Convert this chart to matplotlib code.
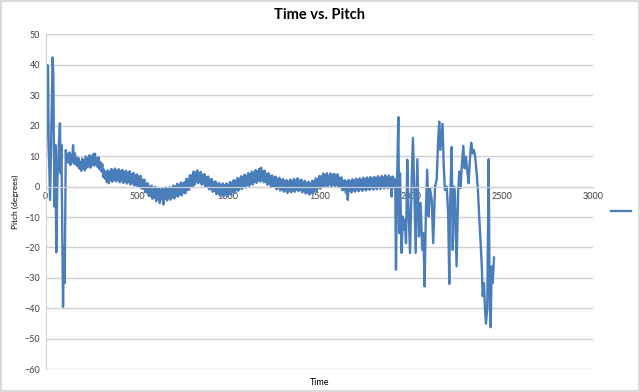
import numpy as np
import matplotlib.pyplot as plt
from matplotlib.lines import Line2D

plt.rcParams["font.family"] = ["Lato", "DejaVu Sans"]

# start of the run: big swings before it settles
early_time = [0, 4, 9, 13, 16, 24, 29, 33, 38, 42, 45, 49, 53, 58, 64, 71, 78, 82, 86, 95, 99, 104, 110, 115]
early_pitch = [0.0, 28.0, 39.9, 39.0, 15.3, -4.4, 13.7, 26.0, 42.4, 36.0, 12.0, -6.6, 13.7, -21.6, 2.2,
               12.0, 20.8, 4.4, 13.7, -39.5, -19.7, -31.7, 12.0, 9.0]

# steady part, sampled every 5 time units (noisy, so it reads as a thick band)
band_start, band_step = 120, 5
band_pitch = [
    10.5, 7.8, 11.2, 7.1, 10.4, 8.2, 13.6, 7.5, 10.9, 7.3, 9.5, 6.6, 9.3, 5.9,
    8.1, 5.2, 9.2, 5.8, 8.7, 5.3, 9.9, 6.2,
    9.4, 6.6, 10.3, 6.2, 9.8, 7.1, 10.6, 6.9,
    10.8, 7.2, 9.4, 6.4, 9.6, 5.7,
    8.0, 5.0, 7.4, 3.1, 5.5, 2.6,
    4.6, 1.5, 5.3, 1.1, 4.9, 2.0, 5.8, 1.6,
    5.3, 2.3, 5.9, 1.7, 5.0, 2.1, 5.7, 1.4, 5.1, 1.9, 5.5, 1.2, 4.7, 1.6, 5.2, 1.0,
    4.5, 1.5, 5.0, 0.7, 4.1, 1.1, 4.5, 0.4, 3.7, 0.6, 4.0, -0.1, 3.3, 0.2,
    3.5, -0.6, 2.3, -0.7, 2.3, -1.9, 1.1, -1.9, 1.0, -3.1,
    -0.1, -3.1, 0.3, -4.0, -0.5, -3.6, -0.1, -4.8, -1.0, -4.1, -0.6, -5.4,
    -1.1, -4.2, -0.5, -5.9, -0.9, -4.0, -0.3, -4.6, -0.8, -3.8, -0.2, -4.3,
    -0.5, -3.5, 0.3, -3.9, 0.0, -3.0, 0.9, -3.3, 0.5, -2.5, 1.3, -2.9, 1.0, -2.0,
    1.4, -2.2, 2.5, -1.1, 2.5, -1.1, 3.7, 0.1, 3.7, 0.1, 4.9, 0.6, 4.6, 1.6,
    5.3, 1.1, 4.5, 1.5, 4.8, 0.6, 3.9, 0.9, 4.1, -0.1, 3.1, 0.1,
    3.3, -0.9, 2.3, -0.7, 2.5, -1.7, 1.5, -1.5, 1.7, -2.5, 0.8, -2.2, 1.2, -3.0, 0.5, -2.5, 1.0, -3.2,
    0.4, -2.6, 1.0, -3.1,
    0.6, -2.4, 1.5, -2.7, 1.2, -1.8, 2.1, -2.1, 1.9, -1.1, 2.8, -1.4, 2.5, -0.5, 3.4, -0.8, 3.1, 0.1,
    3.9, -0.3, 3.5, 0.5, 4.4, 0.2, 4.0, 1.0, 4.9, 0.7, 4.5, 1.5, 5.4, 1.2, 5.0, 2.0, 5.8, 1.6,
    6.2, 2.3, 5.0, 1.4, 5.2, 1.6, 4.2, 0.6, 4.4, 0.8, 3.4, -0.2, 3.7, 0.1,
    2.9, -0.1, 3.3, -0.9, 2.5, -0.5, 2.9, -1.3, 2.1, -0.9, 2.5, -1.7, 1.7, -1.3, 2.1, -2.1,
    1.6, -1.4, 2.3, -1.9, 1.8, -1.2, 2.5, -1.7, 2.0, -1.0, 2.7, -1.5, 1.9, -1.1, 2.3, -1.9,
    1.5, -1.5, 1.9, -2.3, 1.1, -1.9, 1.6, -2.6,
    1.0, -2.0, 1.9, -2.3, 1.7, -1.3, 2.7, -1.5, 2.5, -0.5, 3.5, -0.7, 3.3, 0.3, 4.3, 0.1,
    3.7, 0.7, 4.4, 0.0, 3.6, 0.8, 4.3, 0.1, 3.8, 0.6, 4.2, 0.2, 3.7, 0.7,
    4.0, -0.2, 2.9, -0.1, 3.0, -1.2, 1.9, -1.1, 2.1, -2.1,
    1.5, -4.4, 2.2, -1.4, 1.7, -1.9, 2.4, -1.2, 1.9, -1.7, 2.6, -1.0, 2.1, -1.5, 2.7, -0.9,
    2.2, -1.4, 2.9, -0.7, 2.3, -1.3, 3.0, -0.6, 2.5, -1.1, 3.1, -0.5, 2.6, -1.0, 3.2, -0.4,
    2.7, -0.9, 3.4, -0.2, 2.8, -0.8, 3.5, -0.1, 3.0, -0.6, 3.7, 0.1,
    3.1, -0.5, 3.6, 0.0, 2.9, -3.3, 3.3, -0.3, 2.6, 0.5,
]

# end of the run: large oscillations again
late_time = [1919, 1926, 1932, 1937, 1941, 1950, 1956, 1963, 1968, 1974, 1981, 1986, 1996, 2005,
             2012, 2019, 2027, 2036, 2045, 2054, 2063, 2069, 2076, 2083, 2090, 2098, 2105, 2115, 2123,
             2133, 2142, 2151, 2156, 2162, 2174, 2180, 2187, 2197, 2205, 2211, 2215, 2224, 2230, 2237,
             2242, 2251, 2260, 2266, 2273, 2280, 2288, 2295, 2302, 2309, 2317, 2324, 2331, 2339, 2346,
             2353, 2361, 2368, 2375, 2383, 2390, 2394, 2401, 2406, 2412, 2419, 2427, 2432, 2438, 2443,
             2449, 2456]
late_pitch = [-27.3, 4.4, 22.8, -15.3, 4.4, -21.8, -9.8, -14.2, -10.9, -18.6, 8.8, -4.4, -21.8, 2.2,
              16.0, 0.0, -21.8, 9.0, -16.4, -5.4, -20.8, -15.3, -32.8, -7.6, 5.5, -9.8, -0.5, -4.4, -18.6,
              0.0, 2.2, 16.4, 21.3, 12.0, 20.6, 7.7, -1.1, 0.0, -8.7, -32.0, -7.6, 13.0, -20.8, 0.0,
              -2.2, -26.2, -1.1, 4.9, -0.5, 7.1, 13.4, 6.0, 9.8, 5.5, 1.1, 8.8, 14.4, 10.9, 12.0,
              9.8, 4.4, -1.1, -9.8, -18.6, -27.3, -36.0, -31.7, -39.3, -45.0, -40.4, 9.0, -36.0, -46.2, -26.2,
              -31.7, -23.3]

band_time = band_start + band_step * np.arange(len(band_pitch))
time = np.concatenate([early_time, band_time, late_time])
pitch = np.concatenate([early_pitch, band_pitch, late_pitch])

fig = plt.figure(figsize=(6.4, 3.92), dpi=100)
fig.patch.set_edgecolor("#d9d9d9")
fig.patch.set_linewidth(1.5)
ax = fig.add_axes([0.0714, 0.058, 0.8556, 0.8545])

ax.plot(time, pitch, color="#4a7ebb", lw=1.7)

ax.set_xlim(0, 3000)
ax.set_ylim(-60, 50)
ax.set_xticks(range(0, 3001, 500))
ax.set_yticks(range(-60, 51, 10))
ax.yaxis.grid(True, color="#d0d0d0", lw=1)
ax.set_axisbelow(True)

for s in ("top", "right"):
    ax.spines[s].set_visible(False)
ax.spines["left"].set_color("#d0d0d0")
ax.spines["bottom"].set_color("#d0d0d0")
ax.spines["bottom"].set_position(("data", 0))
ax.tick_params(length=0, labelsize=6.5, colors="#404040", pad=4)

ax.set_title("Time vs. Pitch", fontsize=10.5, fontweight="bold", pad=11)
ax.set_ylabel("Pitch (degrees)", fontsize=6, labelpad=4)
ax.text(0.5, -0.04, "Time", transform=ax.transAxes, ha="center", va="center", fontsize=6.5)

ax.legend([Line2D([], [], color="#4a7ebb", lw=1.7)], [" "], loc="center left",
          bbox_to_anchor=(1.01, 0.47), frameon=False, handlelength=1.4)

fig.savefig("out.png", dpi=100)
